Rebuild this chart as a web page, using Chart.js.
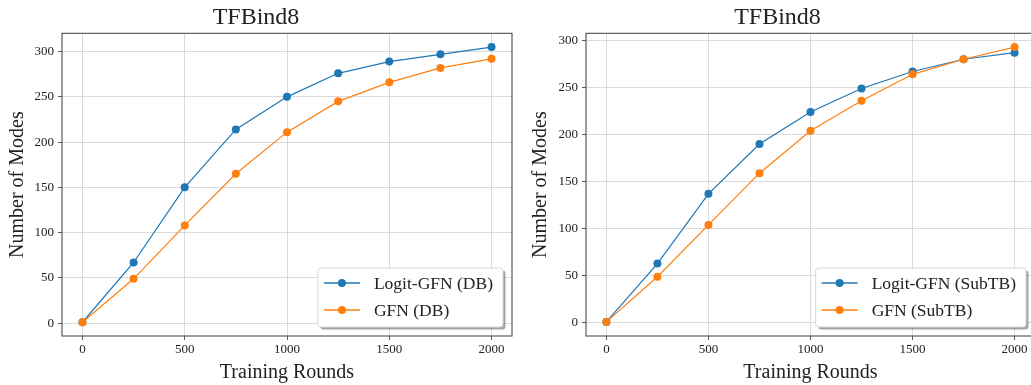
<!DOCTYPE html>
<html>
<head>
<meta charset="utf-8">
<script src="https://cdn.jsdelivr.net/npm/chart.js@4/dist/chart.umd.min.js"></script>
<style>
    html, body { margin: 0; padding: 0; background: #fff; overflow: hidden; }
    body { width: 1031px; height: 385px; position: relative; }
    .painel { position: absolute; top: 0; height: 385px; }
    #painelDB { left: 0; width: 518px; }
    #painelSubTB { left: 520px; width: 520px; }
</style>
</head>
<body>
<div class="painel" id="painelDB"><canvas id="chartDB"></canvas></div>
<div class="painel" id="painelSubTB"><canvas id="chartSubTB"></canvas></div>
<script>
// Dados
const rodadas = [0, 250, 500, 750, 1000, 1250, 1500, 1750, 2000];
const logitDB = [1, 67, 150, 214, 250, 276, 289, 297, 305];
const gfnDB = [1, 49, 108, 165, 211, 245, 266, 282, 292];
const logitSubTB = [1, 63, 137, 190, 224, 249, 267, 280, 287];
const gfnSubTB = [1, 49, 104, 159, 204, 236, 264, 280, 293];
const nomesDB = ['Logit-GFN (DB)', 'GFN (DB)'];
const nomesSubTB = ['Logit-GFN (SubTB)', 'GFN (SubTB)'];
const ticksX = [0, 500, 1000, 1500, 2000];
const ticksY = [0, 50, 100, 150, 200, 250, 300];

const AZUL = '#1f77b4';
const LARANJA = '#ff7f0e';
const FONTE = "'Liberation Serif', 'Times New Roman', serif";

// Moldura completa (os quatro lados)
const pluginMoldura = {
    id: 'moldura',
    afterDraw(chart) {
        const { ctx, chartArea: a } = chart;
        ctx.save();
        ctx.strokeStyle = '#3a3a3a';
        ctx.lineWidth = 1;
        ctx.strokeRect(a.left, a.top, a.right - a.left, a.bottom - a.top);
        ctx.restore();
    }
};

function caixaArredondada(ctx, x, y, w, h, r) {
    ctx.beginPath();
    ctx.moveTo(x + r, y);
    ctx.lineTo(x + w - r, y);
    ctx.quadraticCurveTo(x + w, y, x + w, y + r);
    ctx.lineTo(x + w, y + h - r);
    ctx.quadraticCurveTo(x + w, y + h, x + w - r, y + h);
    ctx.lineTo(x + r, y + h);
    ctx.quadraticCurveTo(x, y + h, x, y + h - r);
    ctx.lineTo(x, y + r);
    ctx.quadraticCurveTo(x, y, x + r, y);
    ctx.closePath();
}

// Legenda dentro do gráfico, canto inferior direito, com sombra
const pluginLegenda = {
    id: 'legendaInterna',
    afterDatasetsDraw(chart) {
        const { ctx, chartArea: a } = chart;
        const conjuntos = chart.data.datasets;
        ctx.save();
        ctx.font = '17.5px ' + FONTE;
        const larguraTexto = Math.max(...conjuntos.map(d => ctx.measureText(d.label).width));
        const w = 56 + larguraTexto + 10;
        const h = 59;
        const x = a.right - 9 - w;
        const y = a.bottom - 9 - h;

        // sombra
        ctx.fillStyle = 'rgba(0,0,0,0.35)';
        caixaArredondada(ctx, x + 2.5, y + 2.5, w, h, 3);
        ctx.fill();
        // caixa
        ctx.fillStyle = '#ffffff';
        caixaArredondada(ctx, x, y, w, h, 3);
        ctx.fill();
        ctx.strokeStyle = '#d6d6d6';
        ctx.lineWidth = 1;
        ctx.stroke();

        conjuntos.forEach((d, i) => {
            const yl = y + 15 + i * 27;
            ctx.strokeStyle = d.borderColor;
            ctx.lineWidth = 1.3;
            ctx.beginPath();
            ctx.moveTo(x + 6, yl);
            ctx.lineTo(x + 42, yl);
            ctx.stroke();
            ctx.fillStyle = d.borderColor;
            ctx.beginPath();
            ctx.arc(x + 24, yl, 4, 0, Math.PI * 2);
            ctx.fill();
            ctx.fillStyle = '#222';
            ctx.textBaseline = 'middle';
            ctx.textAlign = 'left';
            ctx.fillText(d.label, x + 56, yl + 1);
        });
        ctx.restore();
    }
};

function serie(label, valores, cor, ordem) {
    return {
        label: label,
        data: rodadas.map((r, i) => ({ x: r, y: valores[i] })),
        borderColor: cor,
        backgroundColor: cor,
        borderWidth: 1.2,
        pointRadius: 4,
        pointBorderWidth: 0,
        pointBackgroundColor: cor,
        tension: 0,
        order: ordem
    };
}

function criarGrafico(idCanvas, nomes, logit, gfn, esquerda, yMin, yMax, padTituloY, padDireita) {
    const ctx = document.getElementById(idCanvas).getContext('2d');
    return new Chart(ctx, {
        type: 'line',
        data: {
            datasets: [
                serie(nomes[0], logit, AZUL, 1),
                serie(nomes[1], gfn, LARANJA, 0)
            ]
        },
        options: {
            responsive: true,
            maintainAspectRatio: false,
            animation: false,
            layout: { padding: { left: 0, right: padDireita, top: 0, bottom: 0 } },
            plugins: {
                legend: { display: false },
                tooltip: { enabled: false },
                title: {
                    display: true,
                    text: 'TFBind8',
                    color: '#222',
                    font: { family: FONTE, size: 24, weight: 'normal', lineHeight: 1.2 },
                    padding: { top: 3.5, bottom: 1 }
                }
            },
            scales: {
                x: {
                    type: 'linear',
                    min: -100,
                    max: 2100,
                    afterBuildTicks: (s) => { s.ticks = ticksX.map(v => ({ value: v })); },
                    afterFit: (s) => { s.height = 49; },
                    border: { display: false },
                    grid: { color: '#d0d0d0', lineWidth: 0.8, tickColor: '#333', tickLength: 4, tickWidth: 0.8 },
                    ticks: {
                        color: '#222',
                        padding: 2,
                        maxRotation: 0,
                        font: { family: FONTE, size: 13 },
                        callback: (v) => String(v)
                    },
                    title: {
                        display: true,
                        text: 'Training Rounds',
                        color: '#222',
                        font: { family: FONTE, size: 20, lineHeight: 1.2 },
                        padding: { top: 0, bottom: 0.5 }
                    }
                },
                y: {
                    type: 'linear',
                    min: yMin,
                    max: yMax,
                    afterBuildTicks: (s) => { s.ticks = ticksY.map(v => ({ value: v })); },
                    afterFit: (s) => { s.width = esquerda; },
                    border: { display: false },
                    grid: { color: '#d0d0d0', lineWidth: 0.8, tickColor: '#333', tickLength: 4, tickWidth: 0.8 },
                    ticks: {
                        color: '#222',
                        padding: 4,
                        font: { family: FONTE, size: 13 },
                        callback: (v) => String(v)
                    },
                    title: {
                        display: true,
                        text: 'Number of Modes',
                        color: '#222',
                        font: { family: FONTE, size: 20, lineHeight: 1.2 },
                        padding: { top: padTituloY, bottom: 0 }
                    }
                }
            }
        },
        plugins: [pluginMoldura, pluginLegenda]
    });
}

document.addEventListener('DOMContentLoaded', () => {
    criarGrafico('chartDB', nomesDB, logitDB, gfnDB, 62, -14.2, 320.2, 6, 6);
    criarGrafico('chartSubTB', nomesSubTB, logitSubTB, gfnSubTB, 66, -14, 307.6, 9, 5);
});
</script>
</body>
</html>
